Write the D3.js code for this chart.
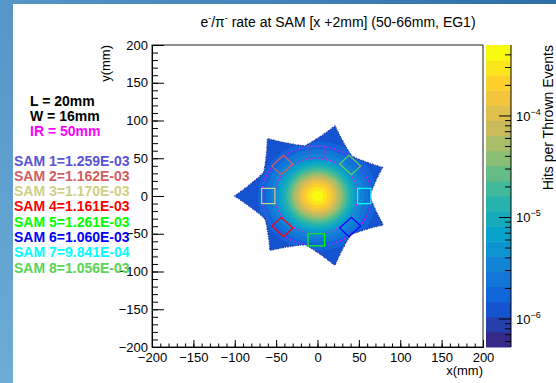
<!DOCTYPE html>
<html>
<head>
<meta charset="utf-8">
<script src="https://cdn.jsdelivr.net/npm/d3@7"></script>
<style>
  body { margin: 0; background: #fff; }
  svg { display: block; font-family: "Liberation Sans", Arial, Helvetica, sans-serif; }
</style>
</head>
<body>
<svg id="chart" width="556" height="383"></svg>
<script>
// ---- data ----
const samNames = ["SAM 1", "SAM 2", "SAM 3", "SAM 4", "SAM 5", "SAM 6", "SAM 7", "SAM 8"];
const samRates = ["1.259E-03", "1.162E-03", "1.170E-03", "1.161E-03", "1.261E-03", "1.060E-03", "9.841E-04", "1.056E-03"];
const samColors = ["#5954d8", "#cf5e61", "#cfcf87", "#ff0000", "#00ff00", "#0000ff", "#00ffff", "#59d454"];
const samAngles = [90, 135, 180, 225, 270, 315, 0, 45];   // deg
const samRadial = [50, 66];                              // mm
const samHalfWidth = 10;                                 // mm (L = 20mm)
const samShiftX = -1.5;                                  // mm
const ringRadii = [50, 66];                              // dotted circles, mm

const infoLabels = ["L = 20mm", "W = 16mm", "IR = 50mm"];
const infoColors = ["#000000", "#000000", "#ff00ff"];

// star shaped acceptance (7 tips)
const tipAngles = [180, 128.57, 77.14, 25.71, -25.71, -77.14, -128.57];
const tipRadii = [100, 97, 95, 87, 88, 94, 92];
const valleyRadii = [72, 68, 67, 63, 65, 66, 70];          // valley after each tip (clockwise)
const edgeShape = [[0, 1], [4, 0.72], [8, 0.5], [13, 0.3], [19, 0.12], [25.71, 0]];

// outer radius (mm) of each colour level, levels 2..19
const levelOuterR = [110, 72, 62, 56, 51, 47, 43.5, 40, 37, 34, 31, 28.5, 25.5, 22.5, 19.5, 16, 12, 7];
const firstLevel = 2;

const xTicks = [-200, -150, -100, -50, 0, 50, 100, 150, 200];
const yTicks = [-200, -150, -100, -50, 0, 50, 100, 150, 200];
const zDomain = [5.3e-7, 5e-4];
const zMajor = [1e-6, 1e-5, 1e-4];
const zLabels = ["−6", "−5", "−4"];
const nLevels = 20;

// ROOT kBird palette
const birdStops = [0, 0.125, 0.25, 0.375, 0.5, 0.625, 0.75, 0.875, 1];
const birdR = [0.2082, 0.0592, 0.0780, 0.0232, 0.1802, 0.5301, 0.8186, 0.9956, 0.9764];
const birdG = [0.1664, 0.3599, 0.5041, 0.6419, 0.7178, 0.7492, 0.7328, 0.7862, 0.9832];
const birdB = [0.5293, 0.8684, 0.8385, 0.7914, 0.6425, 0.4662, 0.3499, 0.1968, 0.0539];

// ---- setup ----
const svg = d3.select('#chart');
const frame = { left: 152, right: 483, top: 45, bottom: 347 };
const bar = { left: 486, right: 511 };

const x = d3.scaleLinear().domain([-200, 200]).range([frame.left, frame.right]);
const y = d3.scaleLinear().domain([-200, 200]).range([frame.bottom, frame.top]);
const z = d3.scaleLog().domain(zDomain).range([frame.bottom, frame.top]);

const bird = d3.scaleLinear().domain(birdStops)
  .range(birdStops.map((s, i) => d3.rgb(birdR[i] * 255, birdG[i] * 255, birdB[i] * 255)))
  .interpolate(d3.interpolateRgb);
const levelColor = i => bird(i / (nLevels - 1));

// background frame of the screenshot
const defs = svg.append('defs');
const gl = defs.append('linearGradient').attr('id', 'leftStrip').attr('x1', 0).attr('y1', 0).attr('x2', 0).attr('y2', 1);
gl.append('stop').attr('offset', 0).attr('stop-color', '#5595c8');
gl.append('stop').attr('offset', 1).attr('stop-color', '#6cacd6');
const gt = defs.append('linearGradient').attr('id', 'topStrip').attr('x1', 0).attr('y1', 0).attr('x2', 1).attr('y2', 0);
gt.append('stop').attr('offset', 0).attr('stop-color', '#5595c8');
gt.append('stop').attr('offset', 1).attr('stop-color', '#2f6fa8');
svg.append('rect').attr('x', 0).attr('y', 0).attr('width', 556).attr('height', 4).attr('fill', 'url(#topStrip)');
svg.append('rect').attr('x', 0).attr('y', 0).attr('width', 13).attr('height', 383).attr('fill', 'url(#leftStrip)');

// ---- star outline ----
const starPts = [];
tipAngles.forEach((a, k) => {
  const vPrev = valleyRadii[(k + tipAngles.length - 1) % tipAngles.length];
  const vNext = valleyRadii[k];
  // from higher angle side down to lower angle side
  for (let j = edgeShape.length - 1; j > 0; j--) {
    const [d, f] = edgeShape[j];
    starPts.push([a + d, vPrev + (tipRadii[k] - vPrev) * f]);
  }
  starPts.push([a, tipRadii[k]]);
  for (let j = 1; j < edgeShape.length - 1; j++) {
    const [d, f] = edgeShape[j];
    starPts.push([a - d, vNext + (tipRadii[k] - vNext) * f]);
  }
});
const rad = Math.PI / 180;
const starLine = d3.line()
  .x(p => x(p[1] * Math.cos(p[0] * rad)))
  .y(p => y(p[1] * Math.sin(p[0] * rad)))
  .curve(d3.curveLinearClosed);

defs.append('clipPath').attr('id', 'starClip')
  .append('path').attr('d', starLine(starPts));

// ---- heat map levels ----
const heat = svg.append('g').attr('clip-path', 'url(#starClip)');
heat.selectAll('ellipse')
  .data(levelOuterR)
  .enter().append('ellipse')
  .attr('cx', x(0))
  .attr('cy', y(0))
  .attr('rx', r => x(r) - x(0))
  .attr('ry', r => y(0) - y(r))
  .attr('fill', (r, i) => levelColor(firstLevel + i));

svg.append('path')
  .attr('d', starLine(starPts))
  .attr('fill', 'none')
  .attr('stroke', levelColor(1))
  .attr('stroke-width', 1.4)
  .attr('stroke-dasharray', '2,1,1,1');

// ---- dotted rings ----
svg.selectAll('.ring')
  .data(ringRadii)
  .enter().append('ellipse')
  .attr('class', 'ring')
  .attr('cx', x(samShiftX))
  .attr('cy', y(0))
  .attr('rx', r => x(r) - x(0))
  .attr('ry', r => y(0) - y(r))
  .attr('fill', 'none')
  .attr('stroke', '#ff00ff')
  .attr('stroke-width', 1.2)
  .attr('stroke-dasharray', '1.5,2.5');

// ---- SAM boxes ----
const boxLine = d3.line().x(p => x(p[0])).y(p => y(p[1])).curve(d3.curveLinearClosed);
svg.selectAll('.sam')
  .data(samAngles)
  .enter().append('path')
  .attr('class', 'sam')
  .attr('d', a => {
    const c = Math.cos(a * rad), s = Math.sin(a * rad);
    const corners = [[samRadial[0], -samHalfWidth], [samRadial[1], -samHalfWidth],
                     [samRadial[1], samHalfWidth], [samRadial[0], samHalfWidth]];
    return boxLine(corners.map(([r, t]) => [r * c - t * s + samShiftX, r * s + t * c]));
  })
  .attr('fill', 'none')
  .attr('stroke', (a, i) => samColors[i])
  .attr('stroke-width', 1.2);

// ---- frame and axes ----
svg.append('rect')
  .attr('x', frame.left).attr('y', frame.top)
  .attr('width', frame.right - frame.left).attr('height', frame.bottom - frame.top)
  .attr('fill', 'none').attr('stroke', '#222').attr('stroke-width', 1);

const minor = d3.range(-200, 201, 10);

svg.append('g').attr('transform', 'translate(' + frame.left + ',0)')
  .call(d3.axisLeft(y).tickValues(yTicks).tickSizeInner(-12).tickSizeOuter(0).tickPadding(4));
svg.append('g').attr('transform', 'translate(' + frame.left + ',0)')
  .call(d3.axisLeft(y).tickValues(minor).tickSizeInner(-6).tickSizeOuter(0).tickFormat(''));

svg.append('g').attr('transform', 'translate(0,' + frame.bottom + ')')
  .call(d3.axisBottom(x).tickValues(xTicks).tickSizeInner(-7).tickSizeOuter(0).tickPadding(6));
svg.append('g').attr('transform', 'translate(0,' + frame.bottom + ')')
  .call(d3.axisBottom(x).tickValues(minor).tickSizeInner(-3.5).tickSizeOuter(0).tickFormat(''));

svg.selectAll('.domain').attr('stroke', '#000');
svg.selectAll('.tick line').attr('stroke', '#000');
svg.selectAll('.tick text').attr('font-size', 13).attr('fill', '#000')
  .attr('font-family', '"Liberation Sans", Arial, sans-serif');

svg.append('text').attr('x', frame.right).attr('y', 375)
  .attr('text-anchor', 'end').attr('font-size', 13).text('x(mm)');
svg.append('text').attr('transform', 'translate(110,' + frame.top + ') rotate(-90)')
  .attr('text-anchor', 'end').attr('font-size', 13).text('y(mm)');

// ---- colour bar ----
const zStep = (Math.log10(zDomain[1]) - Math.log10(zDomain[0])) / nLevels;
const zEdges = d3.range(nLevels + 1).map(i => Math.pow(10, Math.log10(zDomain[0]) + i * zStep));
svg.selectAll('.band')
  .data(d3.range(nLevels))
  .enter().append('rect')
  .attr('class', 'band')
  .attr('x', bar.left)
  .attr('width', bar.right - bar.left)
  .attr('y', i => z(zEdges[i + 1]))
  .attr('height', i => z(zEdges[i]) - z(zEdges[i + 1]) + 0.5)
  .attr('fill', i => levelColor(i));

const zMinor = [];
[1e-7, 1e-6, 1e-5, 1e-4].forEach(dec => d3.range(2, 10).forEach(m => {
  const v = m * dec;
  if (v > zDomain[0] && v < zDomain[1]) zMinor.push(v);
}));
svg.selectAll('.zminor')
  .data(zMinor)
  .enter().append('line')
  .attr('x1', bar.right - 6).attr('x2', bar.right)
  .attr('y1', v => z(v)).attr('y2', v => z(v))
  .attr('stroke', '#000').attr('stroke-width', 1);
svg.selectAll('.zmajor')
  .data(zMajor)
  .enter().append('line')
  .attr('x1', bar.right - 12).attr('x2', bar.right)
  .attr('y1', v => z(v)).attr('y2', v => z(v))
  .attr('stroke', '#000').attr('stroke-width', 1);
svg.append('line').attr('x1', bar.right).attr('x2', bar.right)
  .attr('y1', frame.top).attr('y2', frame.bottom).attr('stroke', '#000');

const zl = svg.selectAll('.zlab')
  .data(zMajor)
  .enter().append('text')
  .attr('x', bar.right + 5)
  .attr('y', v => z(v) + 5)
  .attr('font-size', 13);
zl.append('tspan').text('10');
zl.append('tspan').attr('dy', -6).attr('font-size', 9).text((v, i) => zLabels[i]);

svg.append('text').attr('transform', 'translate(553,' + frame.top + ') rotate(-90)')
  .attr('text-anchor', 'end').attr('font-size', 14).text('Hits per Thrown Events');

// ---- title ----
const title = svg.append('text').attr('x', 338).attr('y', 27)
  .attr('text-anchor', 'middle').attr('font-size', 14);
title.append('tspan').text('e');
title.append('tspan').attr('dy', -6).attr('font-size', 9).text('-');
title.append('tspan').attr('dy', 6).text('/π');
title.append('tspan').attr('dy', -6).attr('font-size', 9).text('-');
title.append('tspan').attr('dy', 6).text(' rate at SAM [x +2mm] (50-66mm, EG1)');

// ---- annotations ----
svg.selectAll('.info')
  .data(infoLabels)
  .enter().append('text')
  .attr('x', 30)
  .attr('y', (d, i) => 105.5 + i * 15)
  .attr('font-size', 14).attr('font-weight', 'bold')
  .attr('fill', (d, i) => infoColors[i])
  .text(d => d);

svg.selectAll('.samlab')
  .data(samNames)
  .enter().append('text')
  .attr('x', 14)
  .attr('y', (d, i) => 165.5 + i * 15.3)
  .attr('font-size', 14).attr('font-weight', 'bold')
  .attr('fill', (d, i) => samColors[i])
  .text((d, i) => d + '=' + samRates[i]);
</script>
</body>
</html>
